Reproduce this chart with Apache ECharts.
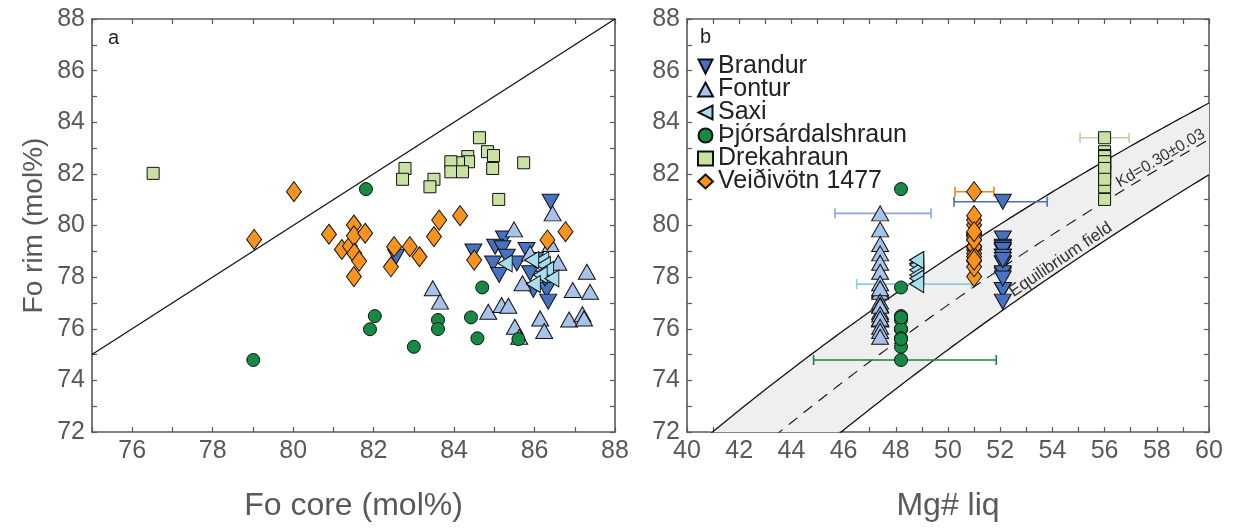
<!DOCTYPE html>
<html>
<head>
<meta charset="utf-8">
<script src="https://cdn.jsdelivr.net/npm/echarts@6/dist/echarts.min.js"></script>
<style>
  html, body { margin: 0; padding: 0; background: #ffffff; }
  #chart { width: 1235px; height: 531px; }
</style>
</head>
<body>
<div id="chart"></div>
<script>
// Olivine core and rim compositions, Fo (mol%), one pair per crystal
const brandurCore = [86.40, 82.56, 84.48, 85.24, 85.02, 85.20, 85.80, 84.97, 85.12, 85.56, 85.89, 85.97, 86.30, 86.34, 86.26, 85.31, 86.01];
const brandurRim  = [80.92, 78.79, 78.99, 79.50, 79.18, 79.12, 79.05, 78.53, 78.08, 78.53, 78.15, 77.50, 77.50, 77.05, 77.95, 78.79, 78.66];

const fonturCore = [86.45, 85.49, 86.40, 85.89, 86.59, 87.30, 85.70, 86.95, 87.38, 83.47, 83.65, 84.85, 85.18, 85.35, 86.14, 86.86, 87.19, 87.23, 85.51, 86.24, 85.62];
const fonturRim  = [80.47, 79.85, 79.28, 78.92, 78.56, 78.21, 77.76, 77.50, 77.43, 77.57, 77.05, 76.66, 76.92, 76.89, 76.40, 76.36, 76.56, 76.40, 76.08, 75.91, 75.69];

const saxiCore = [85.27, 86.18, 86.22, 86.30, 86.14, 86.43, 85.97, 85.93];
const saxiRim  = [78.53, 78.66, 78.47, 78.28, 78.08, 77.95, 77.73, 78.66];

const thjorsCore = [81.81, 79.01, 82.03, 81.91, 83.00, 83.60, 83.60, 84.42, 84.58, 84.70, 85.60];
const thjorsRim  = [81.41, 74.79, 76.49, 75.98, 75.30, 76.34, 75.99, 76.44, 75.63, 77.60, 75.60];

const drekaCore = [76.52, 84.63, 84.83, 84.98, 84.96, 85.73, 85.11, 84.34, 84.36, 84.11, 83.92, 83.92, 84.21, 83.50, 83.40, 82.78, 82.72];
const drekaRim  = [82.02, 83.40, 82.86, 82.71, 82.21, 82.43, 81.01, 82.67, 82.47, 82.43, 82.47, 82.08, 82.08, 81.79, 81.50, 82.21, 81.79];

const veidiCore = [79.03, 80.02, 80.89, 81.21, 81.41, 81.51, 81.51, 81.52, 81.64, 81.51, 81.79, 82.43, 82.51, 82.90, 83.14, 83.50, 83.63, 84.15, 84.50, 86.32, 86.77];
const veidiRim  = [79.46, 81.31, 79.66, 79.07, 79.20, 80.02, 79.60, 78.92, 78.62, 78.02, 79.70, 78.40, 79.18, 79.18, 78.79, 79.57, 80.21, 80.38, 78.66, 79.44, 79.76];

// Eruption names, in legend order
const groupNames = ['Brandur', 'Fontur', 'Saxi', 'Þjórsárdalshraun', 'Drekahraun', 'Veiðivötn 1477'];

// Host-liquid Mg# for each eruption (same order)
const mgLiq = [52.1, 47.4, 48.8, 48.2, 56.0, 51.0];

// Mg# uncertainty range and the Fo level where each range is drawn (same order)
const errMgLow  = [50.23, 45.67, 46.50, 44.85, 55.06, 50.27];
const errMgHigh = [53.80, 49.35, 50.90, 51.85, 56.94, 51.76];
const errFo     = [80.92, 80.47, 77.73, 74.79, 83.40, 81.31];

// Olivine-melt Fe-Mg exchange coefficient
const KD = 0.30;
const KD_ERR = 0.03;

// Axis ranges
const coreRange = [75, 88];
const rimRange = [72, 88];
const mgRange = [40, 60];

// ---------------------------------------------------------------
const coreByGroup = [brandurCore, fonturCore, saxiCore, thjorsCore, drekaCore, veidiCore];
const rimByGroup  = [brandurRim, fonturRim, saxiRim, thjorsRim, drekaRim, veidiRim];

const FONT = '"Liberation Sans", Arial, sans-serif';
const AXIS_COLOR = '#595959';
const LABEL_COLOR = '#595959';

const styles = [
  { symbol: 'path://M0,0L10,0L5,10Z',   size: [17, 15], fill: '#4672c1', err: '#4a6fb5' },
  { symbol: 'triangle',                size: [17, 15], fill: '#a8c3e9', err: '#8aa7d8' },
  { symbol: 'path://M10,0L10,10L0,5Z', size: [14, 17], fill: '#a6def0', err: '#8fcbd9' },
  { symbol: 'circle',                  size: 13,       fill: '#168a44', err: '#1f7d45' },
  { symbol: 'rect',                    size: 12,       fill: '#c9e2a3', err: '#b7d49c' },
  { symbol: 'diamond',                 size: [15, 20], fill: '#f7931e', err: '#e0892b' }
];

function evenLabel(v) {
  const r = Math.round(v);
  return r % 2 === 0 ? String(r) : '';
}

function axis(gridIndex, range, position, extra) {
  const main = position === 'bottom' || position === 'left';
  return Object.assign({
    gridIndex: gridIndex,
    type: 'value',
    min: range[0],
    max: range[1],
    interval: 1,
    position: position,
    axisLine: { show: true, onZero: false, lineStyle: { color: AXIS_COLOR, width: 1.6 } },
    axisTick: { show: true, inside: true, length: 5, lineStyle: { color: AXIS_COLOR, width: 1.2 } },
    axisLabel: {
      show: main,
      formatter: evenLabel,
      fontSize: 25,
      color: LABEL_COLOR,
      fontFamily: FONT,
      margin: 7
    },
    splitLine: { show: false }
  }, extra || {});
}

const xNameStyle = { fontSize: 32, color: LABEL_COLOR, fontFamily: FONT };
const yNameStyle = { fontSize: 28, color: LABEL_COLOR, fontFamily: FONT };

const xAxes = [
  axis(0, coreRange, 'bottom', { name: 'Fo core (mol%)', nameLocation: 'middle', nameGap: 58, nameTextStyle: xNameStyle }),
  axis(0, coreRange, 'top'),
  axis(1, mgRange, 'bottom', { name: 'Mg# liq', nameLocation: 'middle', nameGap: 58, nameTextStyle: xNameStyle }),
  axis(1, mgRange, 'top')
];
const yAxes = [
  axis(0, rimRange, 'left', { name: 'Fo rim (mol%)', nameLocation: 'middle', nameGap: 44, nameTextStyle: yNameStyle }),
  axis(0, rimRange, 'right'),
  axis(1, rimRange, 'left'),
  axis(1, rimRange, 'right')
];

// Equilibrium olivine Fo for a liquid of given Mg#
function foEq(mg, kd) {
  const m = mg / 100;
  return 100 / (1 + kd * (1 - m) / m);
}
const mgSamples = [];
for (let v = mgRange[0]; v <= mgRange[1] + 1e-9; v += 0.2) mgSamples.push(+v.toFixed(2));
const curve = kd => mgSamples.map(m => [m, foEq(m, kd)]);

const series = [];

// Panel a: 1:1 line
series.push({
  type: 'line', xAxisIndex: 0, yAxisIndex: 0,
  data: [[coreRange[0], coreRange[0]], [coreRange[1], coreRange[1]]],
  showSymbol: false, symbol: 'none', silent: true,
  lineStyle: { color: '#111', width: 1.3 }, z: 1
});

// Panel b: equilibrium field (band between Kd-err and Kd+err)
series.push({
  type: 'custom', xAxisIndex: 2, yAxisIndex: 2, silent: true, z: 1,
  data: [[mgRange[0], rimRange[0]]],
  renderItem: function (params, api) {
    const cs = params.coordSys;
    const bottom = cs.y + cs.height;
    const pts = [];
    curve(KD - KD_ERR).forEach(d => { const p = api.coord(d); pts.push([p[0], Math.min(p[1], bottom)]); });
    curve(KD + KD_ERR).slice().reverse().forEach(d => { const p = api.coord(d); pts.push([p[0], Math.min(p[1], bottom)]); });
    return { type: 'polygon', shape: { points: pts }, style: { fill: '#efefef', stroke: null } };
  }
});
[[KD - KD_ERR, 'solid'], [KD + KD_ERR, 'solid'], [KD, [11, 8]]].forEach(([kd, type]) => {
  series.push({
    type: 'line', xAxisIndex: 2, yAxisIndex: 2, silent: true,
    data: curve(kd), showSymbol: false, symbol: 'none',
    lineStyle: { color: '#111', width: type === 'solid' ? 1.3 : 1.1, type: type }, z: 2
  });
});

// Panel b: Mg# uncertainty bars
series.push({
  type: 'custom', xAxisIndex: 2, yAxisIndex: 2, silent: true, z: 3,
  encode: { x: [0, 1], y: 2 },
  data: groupNames.map((n, i) => [errMgLow[i], errMgHigh[i], errFo[i]]),
  renderItem: function (params, api) {
    const lo = api.coord([api.value(0), api.value(2)]);
    const hi = api.coord([api.value(1), api.value(2)]);
    const c = styles[params.dataIndex].err;
    const cap = 5;
    const st = { stroke: c, lineWidth: 1.6 };
    return {
      type: 'group',
      children: [
        { type: 'line', shape: { x1: lo[0], y1: lo[1], x2: hi[0], y2: hi[1] }, style: st },
        { type: 'line', shape: { x1: lo[0], y1: lo[1] - cap, x2: lo[0], y2: lo[1] + cap }, style: st },
        { type: 'line', shape: { x1: hi[0], y1: hi[1] - cap, x2: hi[0], y2: hi[1] + cap }, style: st }
      ]
    };
  }
});

// Scatter marks for both panels
groupNames.forEach((name, i) => {
  const s = styles[i];
  const common = {
    type: 'scatter', name: name,
    symbol: s.symbol, symbolSize: s.size, symbolKeepAspect: false,
    itemStyle: { color: s.fill, borderColor: '#111', borderWidth: 1, opacity: 1 },
    emphasis: { disabled: true },
    z: 4 + i
  };
  series.push(Object.assign({}, common, {
    xAxisIndex: 0, yAxisIndex: 0,
    data: coreByGroup[i].map((c, k) => [c, rimByGroup[i][k]])
  }));
  series.push(Object.assign({}, common, {
    xAxisIndex: 2, yAxisIndex: 2,
    data: rimByGroup[i].map(r => [mgLiq[i], r])
  }));
});

const chart = echarts.init(document.getElementById('chart'), null, { renderer: 'canvas' });

chart.setOption({
  animation: false,
  backgroundColor: '#ffffff',
  grid: [
    { left: 92, top: 19, width: 523, height: 413, containLabel: false },
    { left: 687, top: 19, width: 522, height: 413, containLabel: false }
  ],
  xAxis: xAxes,
  yAxis: yAxes,
  legend: {
    orient: 'vertical',
    left: 692, top: 49,
    padding: 5,
    itemWidth: 15, itemHeight: 14, itemGap: -2,
    textStyle: { fontSize: 25, color: '#222', fontFamily: FONT, lineHeight: 22 },
    data: groupNames,
    selectedMode: false
  },
  series: series
});

// Text on the equilibrium field, laid along the curves
function along(mg, kd, text, fontSize) {
  const toPx = v => chart.convertToPixel({ gridIndex: 1 }, v);
  const p = toPx([mg, foEq(mg, kd)]);
  const a = toPx([mg - 0.5, foEq(mg - 0.5, kd)]);
  const b = toPx([mg + 0.5, foEq(mg + 0.5, kd)]);
  const ang = Math.atan2(a[1] - b[1], b[0] - a[0]);
  return {
    type: 'text', x: p[0], y: p[1], rotation: ang, z: 10, silent: true,
    style: { text: text, fontSize: fontSize, fontFamily: FONT, fill: '#333', align: 'center', verticalAlign: 'bottom' }
  };
}

chart.setOption({
  graphic: [
    { type: 'text', left: 108, top: 28, z: 10, style: { text: 'a', fontSize: 20, fontFamily: FONT, fill: '#222' } },
    { type: 'text', left: 700, top: 27, z: 10, style: { text: 'b', fontSize: 20, fontFamily: FONT, fill: '#222' } },
    along(54.5, KD + KD_ERR, 'Equilibrium field', 17),
    along(58.3, KD, 'Kd=0.30±0.03', 16)
  ]
});
</script>
</body>
</html>
